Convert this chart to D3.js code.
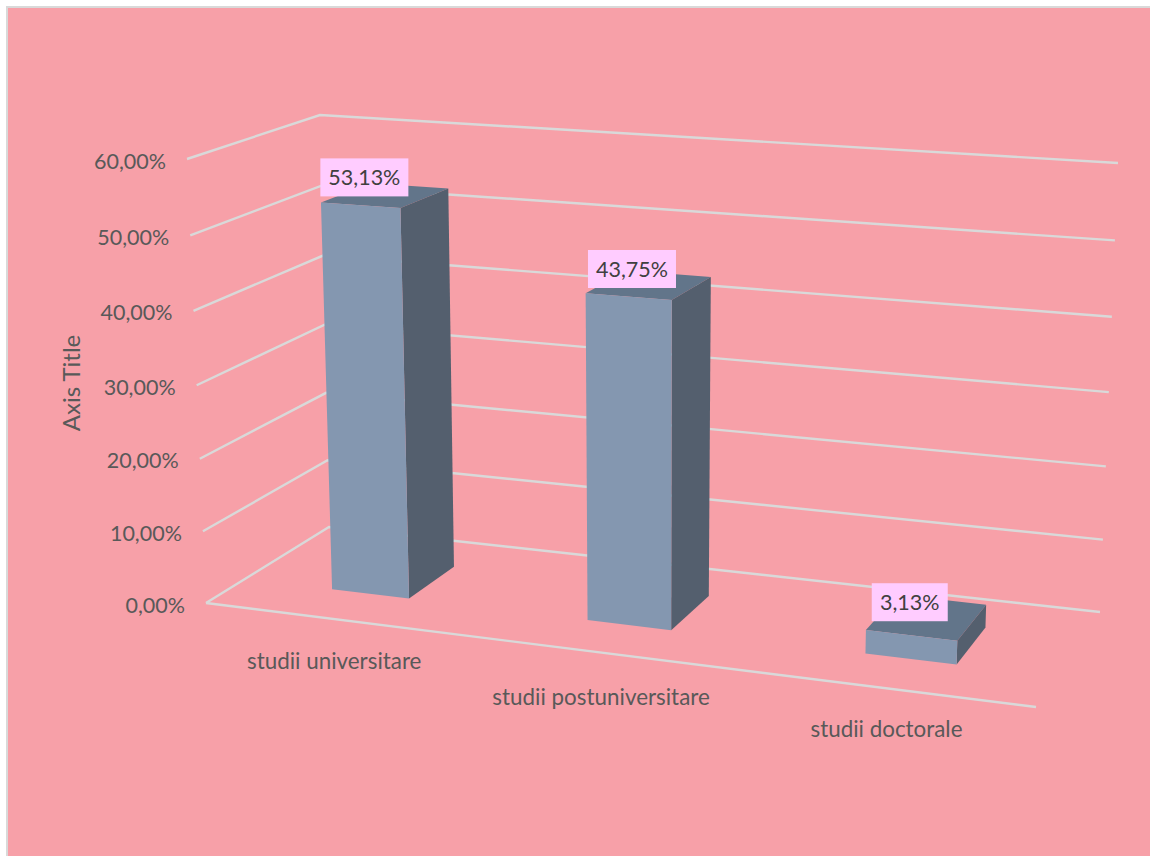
<!DOCTYPE html>
<html><head><meta charset="utf-8">
<script src="https://cdn.jsdelivr.net/npm/d3@7"></script>
<style>html,body{margin:0;padding:0;background:#fff}svg{display:block}text{font-family:Lato,"Open Sans",sans-serif}</style>
</head><body><div id="c"></div>
<script>
const categories = ["studii universitare","studii postuniversitare","studii doctorale"];
const values = [53.13,43.75,3.13];
const valueLabels = ["53,13%","43,75%","3,13%"];
const tickValues = [0,10,20,30,40,50,60];
const tickLabels = ["0,00%","10,00%","20,00%","30,00%","40,00%","50,00%","60,00%"];
const axisTitle = "Axis Title";

const W=1150,H=856;
const svg=d3.select("#c").append("svg").attr("width",W).attr("height",H);
svg.append("rect").attr("x",6).attr("y",6).attr("width",W-6).attr("height",H-6).attr("fill","#d9d9d9");
svg.append("rect").attr("x",8).attr("y",8).attr("width",W-8).attr("height",H-8).attr("fill","#f7a0a8");

// Perspective frame: floor quad and ceiling reference points of the 3D box
const floor={F:[206,603],FR:[1036,707],R:[1100,612],B:[329,527]};
const ceil={F:[187,159],B:[320,115],R:[1118,163]};
function homography(q){
  const [x0,y0]=q.F,[x1,y1]=q.FR,[x2,y2]=q.R,[x3,y3]=q.B;
  const dx1=x1-x2,dx2=x3-x2,sx=x0-x1+x2-x3,dy1=y1-y2,dy2=y3-y2,sy=y0-y1+y2-y3;
  const den=dx1*dy2-dx2*dy1,g=(sx*dy2-dx2*sy)/den,h=(dx1*sy-sx*dy1)/den;
  return {a:x1-x0+g*x1,b:x3-x0+h*x3,c:x0,d:y1-y0+g*y1,e:y3-y0+h*y3,f:y0,g,h};
}
const M=homography(floor);
function base(u,w){return [M.a*u+M.b*w+M.c,M.d*u+M.e*w+M.f,M.g*u+M.h*w+1];}
function fitVertical(){
  const rows=[],rhs=[];
  [[0,0,ceil.F],[0,1,ceil.B],[1,1,ceil.R]].forEach(([u,w,[sx,sy]])=>{
    const [X,Y,Z]=base(u,w);
    rows.push([1,0,-sx]);rhs.push(sx*Z-X);
    rows.push([0,1,-sy]);rhs.push(sy*Z-Y);
  });
  const A=d3.range(3).map(i=>d3.range(3).map(j=>d3.sum(rows,r=>r[i]*r[j])));
  const b=d3.range(3).map(i=>d3.sum(rows,(r,k)=>r[i]*rhs[k]));
  for(let i=0;i<3;i++){
    for(let k=i+1;k<3;k++){const m=A[k][i]/A[i][i];
      for(let j=i;j<3;j++)A[k][j]-=m*A[i][j];b[k]-=m*b[i];}
  }
  const s=[0,0,0];
  for(let i=2;i>=0;i--){s[i]=(b[i]-d3.sum(d3.range(i+1,3),j=>A[i][j]*s[j]))/A[i][i];}
  return s;
}
const V=fitVertical();
const vScale=d3.scaleLinear().domain([0,60]).range([0,1]);
function rawProj(u,w,t){const [X,Y,Z]=base(u,w);
  const z=Z+V[2]*t;return [(X+V[0]*t)/z,(Y+V[1]*t)/z];}
// small residual warp so the ceiling corners land where the reference has them
const sub=(p,q)=>[p[0]-q[0],p[1]-q[1]];
const eF=sub(ceil.F,rawProj(0,0,1)),eB=sub(ceil.B,rawProj(0,1,1)),eR=sub(ceil.R,rawProj(1,1,1)),eFR=[0,6];
function proj(u,w,val){const t=vScale(val),p=rawProj(u,w,t);
  const e=k=>(1-u)*(1-w)*eF[k]+(1-u)*w*eB[k]+u*w*eR[k]+u*(1-w)*eFR[k];
  return [p[0]+t*e(0),p[1]+t*e(1)];}

const uScale=d3.scaleBand().domain(categories).range([0.005,1.005]).paddingInner(0.69).paddingOuter(0.345);
const depth=d3.scaleLinear().domain([0,1]).range([0.3,0.7]);
const line=d3.line();

// gridlines
const grid=svg.append("g").attr("fill","none").attr("stroke","#d9d9d9").attr("stroke-width",2.4);
tickValues.forEach(v=>{
  grid.append("path").attr("d",line([proj(0,0,v),proj(0,1,v),proj(1,1,v)]));
});
grid.append("path").attr("d",line([proj(0,0,0),proj(1,0,0)]));

// tick labels
svg.append("g").selectAll("text").data(tickValues).join("text")
  .attr("x",v=>proj(0,0,v)[0]-21).attr("y",v=>proj(0,0,v)[1]+9.5)
  .attr("text-anchor","end").attr("font-size",21.5).attr("fill","#595959")
  .text((v,i)=>tickLabels[i]);

svg.append("text").attr("transform","translate(80,383) rotate(-90)").attr("text-anchor","middle")
  .attr("font-size",24).attr("fill","#595959").text(axisTitle);

// bars
const barG=svg.append("g");
categories.forEach((c,i)=>{
  const u0=uScale(c),u1=u0+uScale.bandwidth(),w0=depth(0),w1=depth(1),v=values[i];
  const poly=(pts,fill)=>barG.append("polygon").attr("points",pts.map(p=>p.join(",")).join(" ")).attr("fill",fill);
  poly([proj(u0,w0,v),proj(u0,w1,v),proj(u1,w1,v),proj(u1,w0,v)],"#62758a");
  poly([proj(u1,w0,v),proj(u1,w1,v),proj(u1,w1,0),proj(u1,w0,0)],"#545f6e");
  poly([proj(u0,w0,v),proj(u1,w0,v),proj(u1,w0,0),proj(u0,w0,0)],"#8497b0");
});

// value labels
const labelNudgeX=[-21,-17,-17], labelNudgeY=[-18,-16,-15];
categories.forEach((c,i)=>{
  const um=uScale(c)+uScale.bandwidth()/2;
  const [cx0,cy0]=proj(um,0.5,values[i]);
  const cx=cx0+labelNudgeX[i],cy=cy0+labelNudgeY[i],wd=valueLabels[i].length>5?88:76;
  svg.append("rect").attr("x",cx-wd/2).attr("y",cy-19).attr("width",wd).attr("height",38).attr("fill","#ffccff");
  svg.append("text").attr("x",cx).attr("y",cy+7.5).attr("text-anchor","middle").attr("font-size",21.5).attr("fill","#404040").text(valueLabels[i]);
});

// category labels
const catNudgeX=[0.5,3,0], catNudgeY=[50,53,49];
svg.append("g").selectAll("text").data(categories).join("text")
  .attr("x",(c,i)=>proj(uScale(c)+uScale.bandwidth()/2,0,0)[0]+catNudgeX[i])
  .attr("y",(c,i)=>proj(uScale(c)+uScale.bandwidth()/2,0,0)[1]+catNudgeY[i])
  .attr("text-anchor","middle").attr("font-size",22.4).attr("fill","#595959").text(c=>c);
</script></body></html>
